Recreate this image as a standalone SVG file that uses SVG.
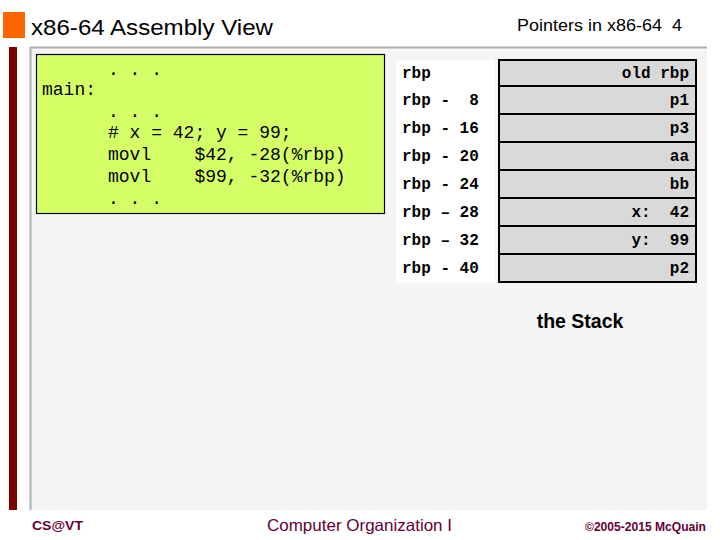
<svg xmlns="http://www.w3.org/2000/svg" width="720" height="540" viewBox="0 0 720 540">
<style>
.title{font-family:"Liberation Sans",Arial,sans-serif;fill:#000}
.code{font-family:"Liberation Mono","Courier New",monospace;font-size:18px;fill:#000;white-space:pre}
.lbl{font-family:"Liberation Mono","Courier New",monospace;font-size:16px;font-weight:bold;fill:#000;white-space:pre}
.cell{fill:#d9d9d9;stroke:#000;stroke-width:2}
.val{font-family:"Liberation Mono","Courier New",monospace;font-size:16px;font-weight:bold;fill:#000;text-anchor:end;white-space:pre}
.foot{font-family:"Liberation Sans",Arial,sans-serif;fill:#660033}
</style>
<rect width="720" height="540" fill="#fff"/>
<g id="header">
<rect x="3" y="12" width="22" height="26" fill="#ff6600"/>
<text class="title" x="31" y="35" font-size="22" textLength="242" lengthAdjust="spacingAndGlyphs">x86-64 Assembly View</text>
<text class="title" x="517" y="31" font-size="16.5" textLength="165" lengthAdjust="spacingAndGlyphs" xml:space="preserve">Pointers in x86-64  4</text>
</g>
<g id="frame">
<rect x="31" y="48" width="676" height="462" fill="#f5f5f5"/>
<rect x="9" y="47" width="8" height="463" fill="#7f0000"/>
<line x1="30" y1="47.5" x2="707" y2="47.5" stroke="#b0b0b0" stroke-width="2"/>
<line x1="30.5" y1="47" x2="30.5" y2="510" stroke="#b0b0b0" stroke-width="2"/>
</g>
<g id="code-box">
<rect x="36.5" y="54.5" width="348" height="159" fill="#d4ff66" stroke="#000" stroke-width="1.2"/>
<text class="code" x="108" y="75" xml:space="preserve">. . .</text>
<text class="code" x="42" y="95">main:</text>
<text class="code" x="108" y="117" xml:space="preserve">. . .</text>
<text class="code" x="108" y="138" xml:space="preserve"># x = 42; y = 99;</text>
<text class="code" x="108" y="160" xml:space="preserve">movl    $42, -28(%rbp)</text>
<text class="code" x="108" y="182" xml:space="preserve">movl    $99, -32(%rbp)</text>
<text class="code" x="108" y="204" xml:space="preserve">. . .</text>
</g>
<g id="offsets">
<rect x="396" y="60" width="99" height="223" fill="#fff"/>
<text class="lbl" x="402" y="78">rbp</text>
<text class="lbl" x="402" y="105" xml:space="preserve">rbp -  8</text>
<text class="lbl" x="402" y="133" xml:space="preserve">rbp - 16</text>
<text class="lbl" x="402" y="161" xml:space="preserve">rbp - 20</text>
<text class="lbl" x="402" y="189" xml:space="preserve">rbp - 24</text>
<text class="lbl" x="402" y="217" xml:space="preserve">rbp – 28</text>
<text class="lbl" x="402" y="245" xml:space="preserve">rbp – 32</text>
<text class="lbl" x="402" y="273" xml:space="preserve">rbp - 40</text>
</g>
<g id="stack">
<rect class="cell" x="499" y="60" width="197" height="26"/>
<rect class="cell" x="499" y="86" width="197" height="28"/>
<rect class="cell" x="499" y="114" width="197" height="28"/>
<rect class="cell" x="499" y="142" width="197" height="28"/>
<rect class="cell" x="499" y="170" width="197" height="28"/>
<rect class="cell" x="499" y="198" width="197" height="28"/>
<rect class="cell" x="499" y="226" width="197" height="28"/>
<rect class="cell" x="499" y="254" width="197" height="28"/>
<text class="val" x="689" y="78">old rbp</text>
<text class="val" x="689" y="105">p1</text>
<text class="val" x="689" y="133">p3</text>
<text class="val" x="689" y="161">aa</text>
<text class="val" x="689" y="189">bb</text>
<text class="val" x="689" y="217" xml:space="preserve">x:  42</text>
<text class="val" x="689" y="245" xml:space="preserve">y:  99</text>
<text class="val" x="689" y="273">p2</text>
<text class="title" x="580" y="328" font-size="19.5" font-weight="bold" text-anchor="middle">the Stack</text>
</g>
<g id="footer">
<text class="foot" x="32" y="530" font-size="13.5" font-weight="bold" textLength="51" lengthAdjust="spacingAndGlyphs">CS@VT</text>
<text class="foot" x="267" y="531" font-size="16.5" textLength="185" lengthAdjust="spacingAndGlyphs">Computer Organization I</text>
<text class="foot" x="585" y="531" font-size="12" font-weight="bold" textLength="121" lengthAdjust="spacingAndGlyphs">©2005-2015 McQuain</text>
</g>
</svg>
